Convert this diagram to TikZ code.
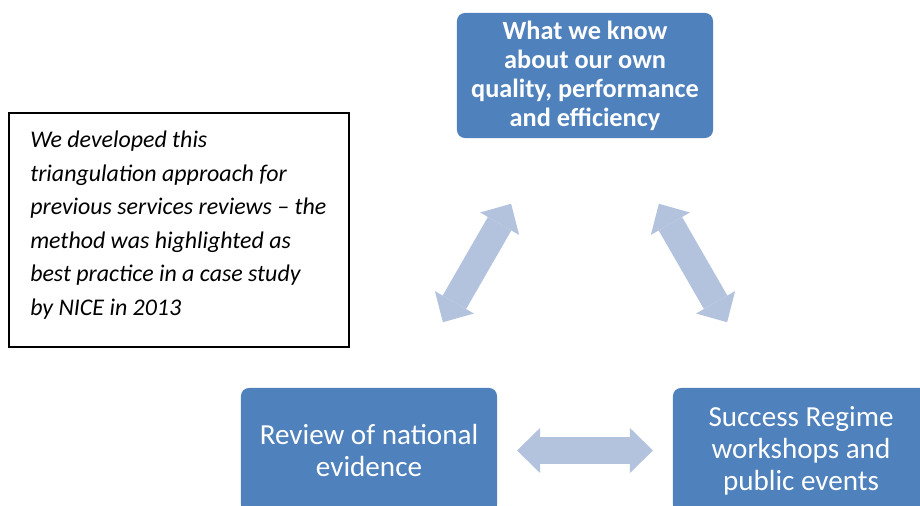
\documentclass[tikz,border=0pt]{standalone}
\usepackage{fontspec}
\setmainfont{Carlito}
\usetikzlibrary{arrows.meta}
\definecolor{bleuBoite}{RGB}{79,129,189}
\definecolor{bleuFleche}{RGB}{179,195,222}

\begin{document}
\begin{tikzpicture}[x=0.025cm, y=-0.025cm,
  boite/.style={fill=bleuBoite, rounded corners=0.2cm, text=white, align=center,
                minimum width=6.4cm, minimum height=3.125cm, inner sep=0pt},
  pointe/.tip={Triangle[length=0.575cm, width=1.125cm, line width=0pt]},
  fleche/.style={draw=bleuFleche, line width=0.675cm, pointe-pointe,
                 shorten <=3.7cm, shorten >=3.7cm}]

\clip (0,0) rectangle (920,506);

% Encadré
\draw[line width=1pt] (9,113) rectangle (349,347);
\node[anchor=west, align=left, inner sep=0pt, font=\fontsize{17}{23.8}\selectfont\itshape] (encadre) at (30,225)
  {We developed this\\triangulation approach for\\previous services reviews -- the\\method was highlighted as\\best practice in a case study\\by NICE in 2013};

% Boîtes
\node[boite, font=\fontsize{18.7}{20.6}\selectfont\bfseries] (savoir) at (585,75.5)
  {What we know\\about our own\\quality, performance\\and efficiency};
\node[boite, font=\fontsize{20.7}{22.8}\selectfont] (revue) at (369,450.5)
  {Review of national\\evidence};
\node[boite, font=\fontsize{20.7}{22.8}\selectfont] (succes) at (801,450.5)
  {Success Regime\\workshops and\\public events};

% Flèches doubles
\draw[fleche] (revue.center) -- (savoir.center);
\draw[fleche] (succes.center) -- (savoir.center);
\draw[fleche] (revue.center) -- (succes.center);

\end{tikzpicture}
\end{document}
